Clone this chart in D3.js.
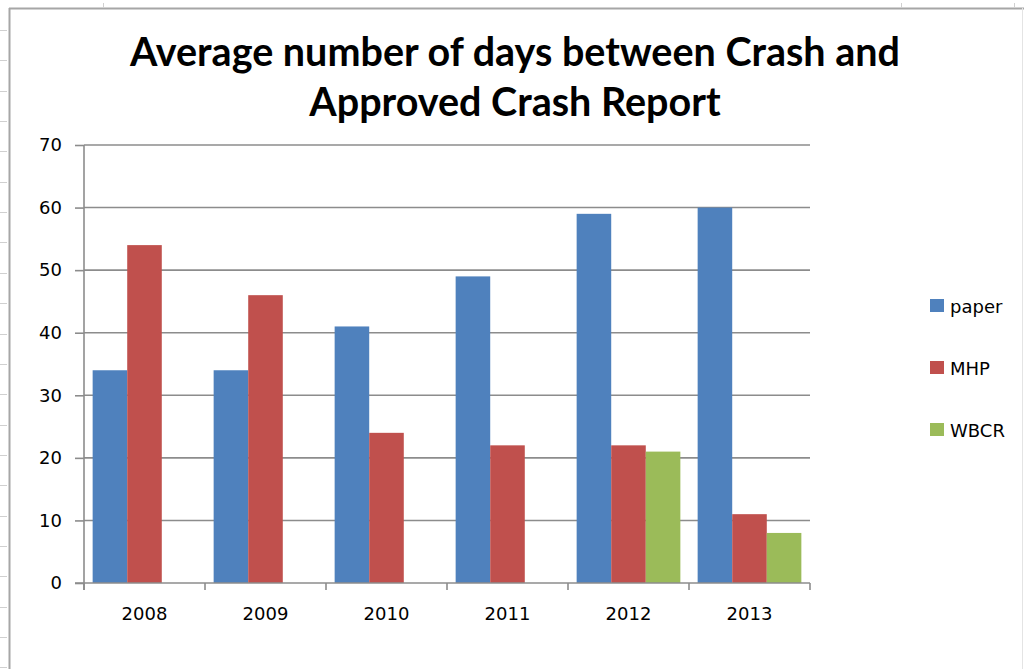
<!DOCTYPE html>
<html>
<head>
<meta charset="utf-8">
<script src="https://cdn.jsdelivr.net/npm/d3@7"></script>
<style>
	html, body { margin: 0; padding: 0; background: #ffffff; }
	svg { display: block; }
</style>
</head>
<body>
<script>
	var years = [ "2008", "2009", "2010", "2011", "2012", "2013" ];
	var seriesNames = [ "paper", "MHP", "WBCR" ];
	var paper = [ 34, 34, 41, 49, 59, 60 ];
	var mhp = [ 54, 46, 24, 22, 22, 11 ];
	var wbcr = [ null, null, null, null, 21, 8 ];
	var yTicks = [ 0, 10, 20, 30, 40, 50, 60, 70 ];
	var titleLines = [ "Average number of days between Crash and", "Approved Crash Report" ];

	var colors = [ "#4F81BD", "#C0504D", "#9BBB59" ];
	var width = 1024, height = 669;
	var plot = { left: 84, right: 810, top: 145, bottom: 583 };
	var labelFont = "'DejaVu Sans', Verdana, sans-serif";

	var rows = [];
	years.forEach(function(y, i) {
		rows.push({ year: y, values: [ paper[i], mhp[i], wbcr[i] ] });
	});

	var svg = d3.select("body").append("svg")//
	.attr("width", width)//
	.attr("height", height);

	// spreadsheet frame behind the chart
	svg.append("line").attr("x1", 9.5).attr("x2", 9.5).attr("y1", 8).attr("y2", height)//
	.attr("stroke", "#a6a6a6").attr("stroke-width", 2);
	svg.append("line").attr("x1", 9).attr("x2", width).attr("y1", 8.5).attr("y2", 8.5)//
	.attr("stroke", "#a6a6a6").attr("stroke-width", 2);
	svg.append("line").attr("x1", 1022.5).attr("x2", 1022.5).attr("y1", 8).attr("y2", height)//
	.attr("stroke", "#e4e4e4").attr("stroke-width", 1);
	for (var r = 30; r < height; r += 30.35) {
		svg.append("line").attr("x1", 0).attr("x2", 7).attr("y1", Math.round(r) + 0.5).attr("y2", Math.round(r) + 0.5)//
		.attr("stroke", "#d0d0d0");
	}
	[ 103, 901, 1014 ].forEach(function(cx) {
		svg.append("line").attr("x1", cx + 0.5).attr("x2", cx + 0.5).attr("y1", 3).attr("y2", 8)//
		.attr("stroke", "#d0d0d0");
	});

	var x0 = d3.scaleBand().domain(years).range([ plot.left, plot.right ]).paddingInner(0.5 / 3.5).paddingOuter(0.25 / 3.5);
	var outer = d3.scaleBand().domain(years).range([ plot.left, plot.right ]);
	var x1 = d3.scaleBand().domain(d3.range(seriesNames.length)).range([ 0, x0.bandwidth() ]);
	var y = d3.scaleLinear().domain([ 0, 70 ]).range([ plot.bottom, plot.top ]);

	// title
	svg.append("g").selectAll("text").data(titleLines).enter().append("text")//
	.attr("x", 515)//
	.attr("y", function(d, i) {
		return 66 + i * 50;
	})//
	.attr("text-anchor", "middle")//
	.attr("font-family", "Lato, 'Open Sans', sans-serif")//
	.attr("font-weight", "bold")//
	.attr("font-size", "39.5px")//
	.attr("fill", "#000000")//
	.text(function(d) {
		return d;
	});

	// gridlines
	svg.append("g").selectAll("line").data(yTicks.slice(1)).enter().append("line")//
	.attr("x1", plot.left).attr("x2", plot.right)//
	.attr("y1", function(d) {
		return y(d);
	}).attr("y2", function(d) {
		return y(d);
	})//
	.attr("stroke", "#8c8c8c").attr("stroke-width", 1.6);

	// bars
	var groups = svg.append("g").selectAll("g").data(rows).enter().append("g")//
	.attr("transform", function(d) {
		return "translate(" + x0(d.year) + ",0)";
	});
	groups.selectAll("rect").data(function(d) {
		return d.values.map(function(v, i) {
			return { value: v, idx: i };
		}).filter(function(e) {
			return e.value != null;
		});
	}).enter().append("rect")//
	.attr("x", function(d) {
		return x1(d.idx);
	})//
	.attr("width", x1.bandwidth())//
	.attr("y", function(d) {
		return y(d.value);
	})//
	.attr("height", function(d) {
		return y(0) - y(d.value);
	})//
	.attr("fill", function(d) {
		return colors[d.idx];
	});

	// y axis
	var yAxis = svg.append("g").attr("transform", "translate(" + plot.left + ",0)")//
	.call(d3.axisLeft(y).tickValues(yTicks).tickSize(9).tickPadding(13).tickSizeOuter(0));
	yAxis.select(".domain").attr("stroke", "#8c8c8c").attr("stroke-width", 1.6)//
	.attr("d", "M0," + (plot.top) + "V" + (plot.bottom + 7));
	yAxis.selectAll(".tick line").attr("stroke", "#8c8c8c").attr("stroke-width", 1.6);
	yAxis.selectAll(".tick text").attr("font-family", labelFont).attr("font-size", "18px").attr("fill", "#000000");

	// x axis
	var xAxis = svg.append("g").attr("transform", "translate(0," + plot.bottom + ")")//
	.call(d3.axisBottom(outer).tickSize(0).tickPadding(24));
	xAxis.select(".domain").remove();
	xAxis.append("line").attr("x1", plot.left - 9).attr("x2", plot.right).attr("y1", 0).attr("y2", 0)//
	.attr("stroke", "#8c8c8c").attr("stroke-width", 1.6);
	xAxis.selectAll(".sep").data(years.concat([ "end" ])).enter().append("line").attr("class", "sep")//
	.attr("x1", function(d, i) {
		return i < years.length ? outer(d) : plot.right;
	})//
	.attr("x2", function(d, i) {
		return i < years.length ? outer(d) : plot.right;
	})//
	.attr("y1", 0).attr("y2", 7)//
	.attr("stroke", "#8c8c8c").attr("stroke-width", 1.6);
	xAxis.selectAll(".tick text").attr("font-family", labelFont).attr("font-size", "18px").attr("fill", "#000000");

	// legend
	var legend = svg.append("g").selectAll("g").data(seriesNames).enter().append("g")//
	.attr("transform", function(d, i) {
		return "translate(930," + (299 + i * 62) + ")";
	});
	legend.append("rect").attr("width", 14).attr("height", 13)//
	.attr("fill", function(d, i) {
		return colors[i];
	});
	legend.append("text").attr("x", 20).attr("y", 14)//
	.attr("font-family", labelFont).attr("font-size", "18px").attr("fill", "#000000")//
	.text(function(d) {
		return d;
	});
</script>
</body>
</html>
